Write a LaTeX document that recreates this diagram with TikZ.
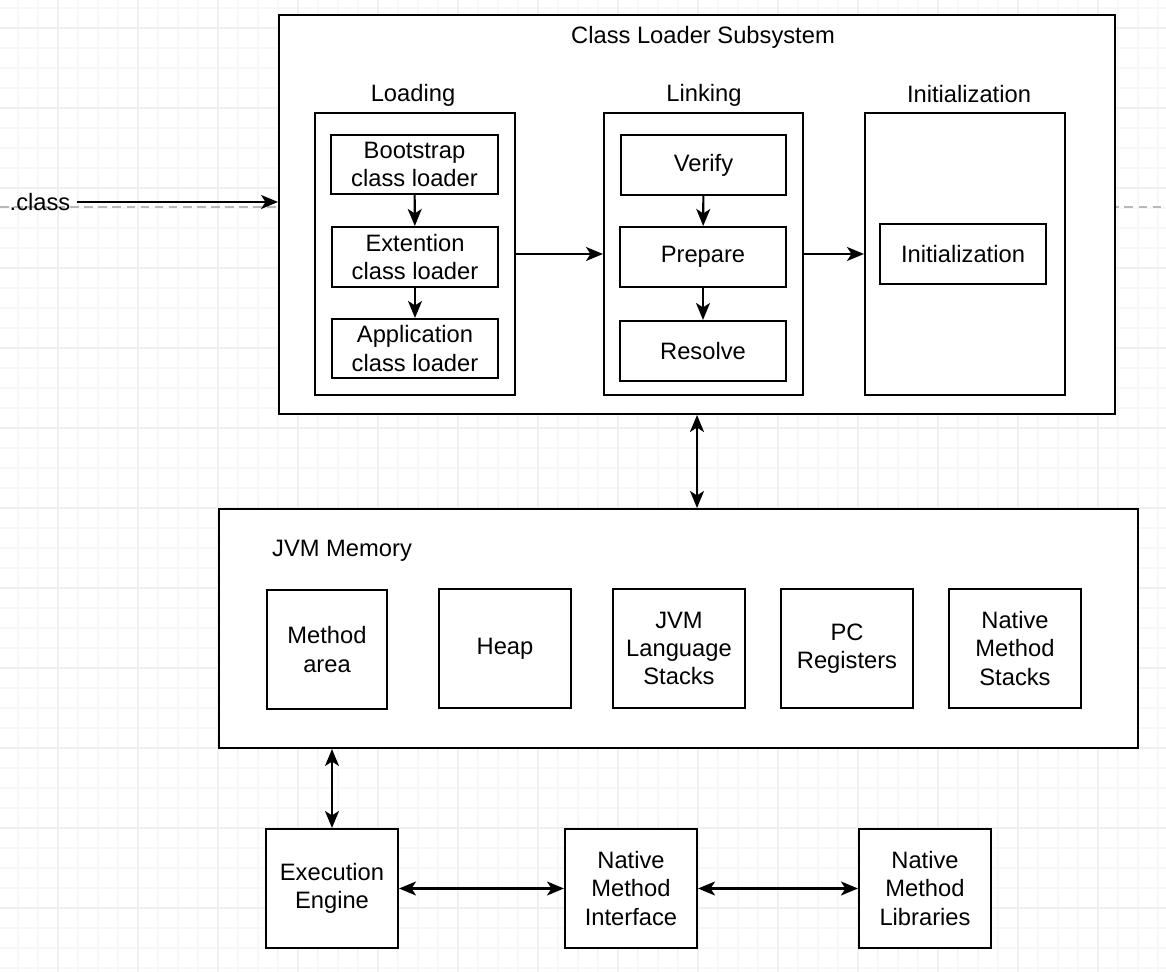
\documentclass[tikz,border=0pt]{standalone}
\usepackage{fontspec}
\setmainfont{Liberation Sans}
\usepackage{tikz}
\usetikzlibrary{arrows.meta}
\usetikzlibrary{calc}
\tikzstyle{every node}=[font=\fontsize{13.5}{16}\selectfont]
\tikzstyle{box}=[rectangle, draw=black, fill=white, line width=1.2pt, align=center]
\tikzstyle{line}=[draw, line width=1.2pt]
\tikzstyle{gridminor}=[draw=black!3, line width=0.6pt]
\tikzstyle{gridmajor}=[draw=black!6, line width=0.6pt]
\tikzstyle{guide}=[draw=black!28, line width=1pt, dash pattern=on 5pt off 3pt]

\begin{document}
\begin{tikzpicture}[x=0.02cm, y=-0.02cm, >={Stealth[length=0.34cm, width=0.28cm, inset=0.09cm]}]
  \useasboundingbox (0,0) rectangle (1166,972);
  % background grid
  \foreach \gx in {18,38,...,1166} \draw[gridminor] (\gx,0) -- (\gx,972);
  \foreach \gy in {8,28,...,972} \draw[gridminor] (0,\gy) -- (1166,\gy);
  \foreach \gx in {58,138,...,1166} \draw[gridmajor] (\gx,0) -- (\gx,972);
  \foreach \gy in {28,108,...,972} \draw[gridmajor] (0,\gy) -- (1166,\gy);
  \draw[guide] (0,207) -- (1166,207);

  % class loader subsystem
  \node[box, minimum width=16.72cm, minimum height=7.98cm] (cls) at (697, 214.5) {};
  \node (clstitle) at (703, 37) {Class Loader Subsystem};

  \node[box, minimum width=4cm, minimum height=5.64cm] (loading) at (415, 254) {};
  \node (loadlbl) at (413, 95) {Loading};
  \node[box, minimum width=3.34cm, minimum height=1.18cm] (boot) at (414.5, 164.5) {Bootstrap\\class loader};
  \node[box, minimum width=3.32cm, minimum height=1.2cm] (ext) at (415, 257) {Extention\\class loader};
  \node[box, minimum width=3.32cm, minimum height=1.18cm] (app) at (415, 348.5) {Application\\class loader};

  \node[box, minimum width=3.98cm, minimum height=5.64cm] (linking) at (703.5, 254) {};
  \node (linklbl) at (704, 95) {Linking};
  \node[box, minimum width=3.3cm, minimum height=1.2cm] (verify) at (703.5, 165) {Verify};
  \node[box, minimum width=3.32cm, minimum height=1.2cm] (prepare) at (703, 257) {Prepare};
  \node[box, minimum width=3.32cm, minimum height=1.2cm] (resolve) at (703, 351) {Resolve};

  \node[box, minimum width=4cm, minimum height=5.64cm] (initbox) at (965, 254) {};
  \node (initlbl) at (969, 94) {Initialization};
  \node[box, minimum width=3.32cm, minimum height=1.2cm] (init) at (963, 254) {Initialization};

  \node (clsfile) at (40, 202) {.class};

  % jvm memory
  \node[box, minimum width=18.38cm, minimum height=4.78cm] (jvm) at (678.5, 628.5) {};
  \node[anchor=west] (jvmlbl) at (266, 551) {JVM Memory};
  \node[box, minimum width=2.4cm, minimum height=2.38cm] (method) at (327, 649.5) {Method\\area};
  \node[box, minimum width=2.64cm, minimum height=2.38cm] (heap) at (505, 648.5) {Heap};
  \node[box, minimum width=2.64cm, minimum height=2.38cm] (jvmstack) at (679, 648.5) {JVM\\Language\\Stacks};
  \node[box, minimum width=2.64cm, minimum height=2.38cm] (pcreg) at (847, 648.5) {PC\\Registers};
  \node[box, minimum width=2.64cm, minimum height=2.38cm] (nstack) at (1015, 648.5) {Native\\Method\\Stacks};

  % engine and native
  \node[box, minimum width=2.64cm, minimum height=2.38cm] (engine) at (332, 888.5) {Execution\\Engine};
  \node[box, minimum width=2.64cm, minimum height=2.38cm] (nif) at (631, 888.5) {Native\\Method\\Interface};
  \node[box, minimum width=2.64cm, minimum height=2.38cm] (nlib) at (925, 888.5) {Native\\Method\\Libraries};

  \draw[line, ->] (clsfile) -- (clsfile -| cls.west);
  \draw[line, ->] (boot) -- (ext);
  \draw[line, ->] (ext) -- (app);
  \draw[line, ->] (verify) -- (prepare);
  \draw[line, ->] (prepare) -- (resolve);
  \draw[line, ->] (loading) -- (linking);
  \draw[line, ->] (linking) -- (initbox);

  \draw[line, <->] (cls.south) -- (cls.south |- jvm.north);
  \draw[line, <->] (engine.north |- jvm.south) -- (engine.north);
  \draw[line, <->] (engine) -- (nif);
  \draw[line, <->] (nif) -- (nlib);

\end{tikzpicture}
\end{document}
